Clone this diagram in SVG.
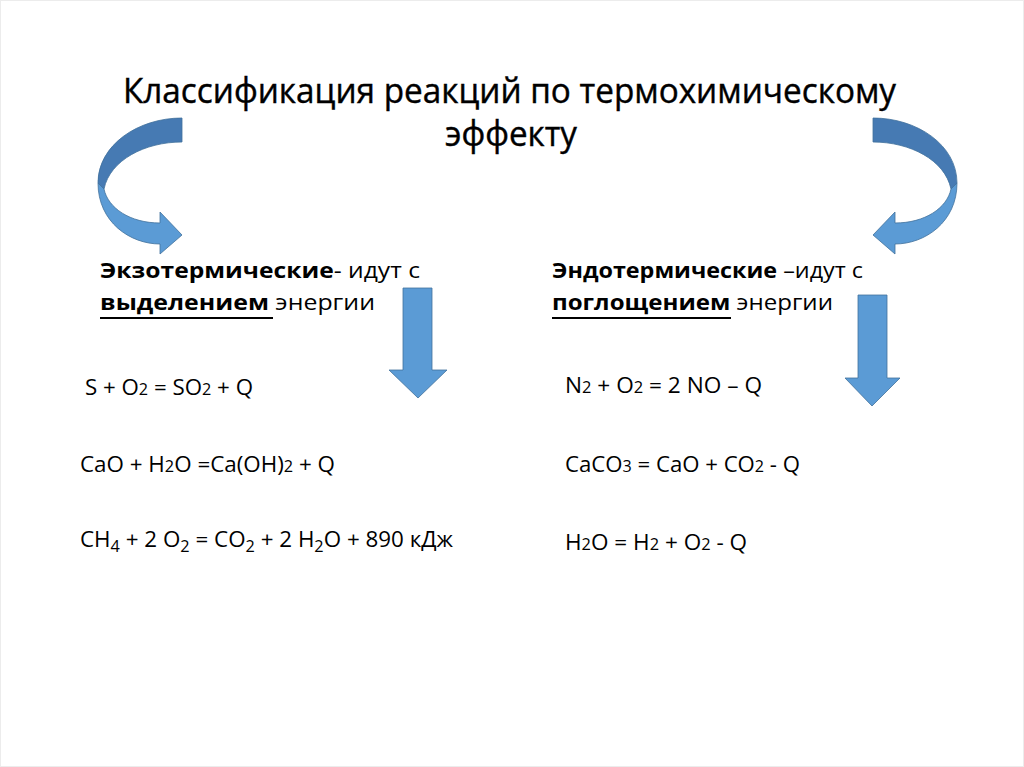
<svg xmlns="http://www.w3.org/2000/svg" width="1024" height="767" viewBox="0 0 1024 767">
<style>
text{font-family:"Open Sans","Noto Sans","DejaVu Sans",sans-serif;fill:#000}
.t{font-size:34px}
.h{font-size:22px}
.f{font-size:22px}
.s{font-size:16px}
.b{font-weight:bold}
.dk{fill:#467ab3;stroke:#41719c;stroke-width:0.8}
.lt{fill:#5b9bd5;stroke:#41719c;stroke-width:0.8}
</style>
<rect x="0" y="0" width="1024" height="767" fill="#fff"/>
<rect x="0.5" y="0.5" width="1023" height="766" fill="none" stroke="#ececec"/>
<g id="title">
<text class="t" x="123" y="103" textLength="773" lengthAdjust="spacingAndGlyphs" stroke="#000" stroke-width="0.4">Классификация реакций по термохимическому</text>
<text class="t" x="445" y="146" textLength="132" lengthAdjust="spacingAndGlyphs" stroke="#000" stroke-width="0.4">эффекту</text>
</g>
<g id="connectors">
<g id="curve-left">
<path class="dk" d="M182,118 C138,118 98,145 98,183 L104,189 C110,160 145,142 182,142 Z"/>
<path class="lt" d="M98,183 C98,222 130,244 160,244 L160,254 L182,235 L160,212 L160,223 C130,223 108,208 104,189 Z"/>
</g>
<g id="curve-right" transform="translate(1055,0) scale(-1,1)">
<path class="dk" d="M182,118 C138,118 98,145 98,183 L104,189 C110,160 145,142 182,142 Z"/>
<path class="lt" d="M98,183 C98,222 130,244 160,244 L160,254 L182,235 L160,212 L160,223 C130,223 108,208 104,189 Z"/>
</g>
<path id="down-left" class="lt" d="M403,288 L432,288 L432,370 L447,370 L418,398 L389,370 L403,370 Z"/>
<path id="down-right" class="lt" d="M858,295 L887,295 L887,378 L900,378 L872,406 L845,378 L858,378 Z"/>
</g>
<g id="exo">
<text class="h" x="100" y="278" textLength="320" lengthAdjust="spacingAndGlyphs"><tspan class="b">Экзотермические</tspan>- идут с</text>
<text class="h" x="100" y="310" textLength="275" lengthAdjust="spacingAndGlyphs"><tspan class="b">выделением </tspan>энергии</text>
<line x1="100" y1="318" x2="273" y2="318" stroke="#000" stroke-width="2"/>
</g>
<g id="endo">
<text class="h" x="552" y="278" textLength="311" lengthAdjust="spacingAndGlyphs"><tspan class="b">Эндотермические</tspan> –идут с</text>
<text class="h" x="552" y="310" textLength="281" lengthAdjust="spacingAndGlyphs"><tspan class="b">поглощением</tspan> энергии</text>
<line x1="552" y1="318" x2="731" y2="318" stroke="#000" stroke-width="2"/>
</g>
<g id="exo-eq">
<text class="f" x="85" y="395" textLength="168" lengthAdjust="spacingAndGlyphs">S + O<tspan class="s">2</tspan> = SO<tspan class="s">2</tspan> + Q</text>
<text class="f" x="80" y="472" textLength="255" lengthAdjust="spacingAndGlyphs">CaO + H<tspan class="s">2</tspan>O =Ca(OH)<tspan class="s">2</tspan> + Q</text>
<text class="f" x="80" y="547" textLength="373" lengthAdjust="spacingAndGlyphs">CH<tspan class="s" dy="5">4</tspan><tspan dy="-5"> + 2 O</tspan><tspan class="s" dy="5">2</tspan><tspan dy="-5"> = CO</tspan><tspan class="s" dy="5">2</tspan><tspan dy="-5"> + 2 H</tspan><tspan class="s" dy="5">2</tspan><tspan dy="-5">O + 890 кДж</tspan></text>
</g>
<g id="endo-eq">
<text class="f" x="565" y="393" textLength="197" lengthAdjust="spacingAndGlyphs">N<tspan class="s">2</tspan> + O<tspan class="s">2</tspan> = 2 NO – Q</text>
<text class="f" x="565" y="472" textLength="235" lengthAdjust="spacingAndGlyphs">CaCO<tspan class="s">3</tspan> = CaO + CO<tspan class="s">2</tspan> - Q</text>
<text class="f" x="565" y="550" textLength="182" lengthAdjust="spacingAndGlyphs">H<tspan class="s">2</tspan>O = H<tspan class="s">2</tspan> + O<tspan class="s">2</tspan> - Q</text>
</g>
</svg>
